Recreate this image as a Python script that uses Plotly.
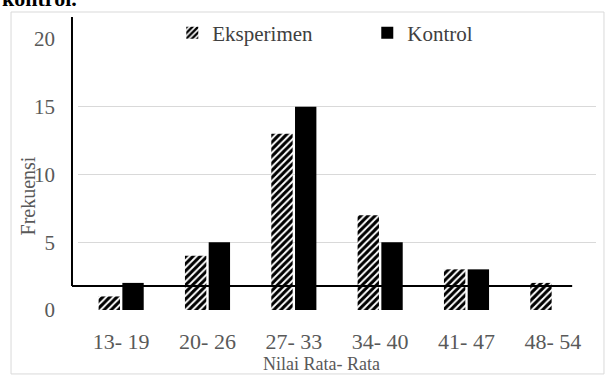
import plotly.graph_objects as go

categories = ["13- 19", "20- 26", "27- 33", "34- 40", "41- 47", "48- 54"]
eksperimen = [1, 4, 13, 7, 3, 2]
kontrol = [2, 5, 15, 5, 3, 0]
y_ticks = [0, 5, 10, 15, 20]

FONT = "Liberation Serif, serif"
GRAY = "#595959"

fig = go.Figure()
fig.add_trace(go.Bar(
    x=categories, y=eksperimen, name="Eksperimen",
    marker=dict(color="white", line=dict(width=0),
                pattern=dict(shape="/", fgcolor="black", bgcolor="white",
                             fgopacity=1, size=5, solidity=0.6)),
))
fig.add_trace(go.Bar(
    x=categories, y=kontrol, name="Kontrol",
    marker=dict(color="black", line=dict(width=0)),
))

fig.update_layout(
    width=605, height=375,
    margin=dict(l=78, r=9, t=39, b=65),
    paper_bgcolor="white", plot_bgcolor="white",
    barmode="group", bargap=0.45, bargroupgap=0.1,
    font=dict(family=FONT, color=GRAY),
    showlegend=True,
    legend=dict(orientation="h", x=0.182, xanchor="left", y=1.022, yanchor="middle",
                font=dict(family=FONT, size=21, color="#404040"),
                itemwidth=30, entrywidth=150, bgcolor="rgba(255,255,255,0)",
                traceorder="normal"),
    xaxis=dict(showgrid=False, showline=False, zeroline=False,
               tickfont=dict(family=FONT, size=22, color=GRAY),
               ticklabelstandoff=16),
    yaxis=dict(range=[0, 20], tickvals=y_ticks, showgrid=True,
               gridcolor="#d9d9d9", gridwidth=1, showline=False, zeroline=False,
               tickfont=dict(family=FONT, size=21, color=GRAY),
               ticklabelstandoff=22),
)

# axis titles
fig.add_annotation(text="Nilai Rata- Rata", xref="paper", yref="paper",
                   x=0.471, y=-0.2, xanchor="center", yanchor="middle",
                   showarrow=False, font=dict(family=FONT, size=18, color=GRAY))
fig.add_annotation(text="Frekuensi", xref="paper", yref="paper",
                   x=-0.096, y=0.42, xanchor="center", yanchor="middle",
                   textangle=-90, showarrow=False,
                   font=dict(family=FONT, size=20, color=GRAY))
# cut-off document text at top
fig.add_annotation(text="<b>kontrol.</b>", xref="paper", yref="paper",
                   x=-0.15, y=1.148, xanchor="left", yanchor="middle",
                   showarrow=False, font=dict(family=FONT, size=22, color="black"))

# outer frame
fig.add_shape(type="rect", xref="paper", yref="paper",
              x0=-0.1293, x1=1.0154, y0=-0.236, y1=1.0996,
              line=dict(color="#d9d9d9", width=1), layer="below")
# stray black lines
fig.add_shape(type="line", xref="paper", yref="y",
              x0=-0.0116, x1=0.954, y0=1.77, y1=1.77,
              line=dict(color="black", width=2), layer="above")
fig.add_shape(type="line", xref="paper", yref="paper",
              x0=-0.0116, x1=-0.0116, y0=0.0886, y1=1.081,
              line=dict(color="black", width=2), layer="above")

fig.write_html("out.html", config={"displayModeBar": False},
               post_script="document.body.style.margin='0';document.body.style.overflow='hidden';")
